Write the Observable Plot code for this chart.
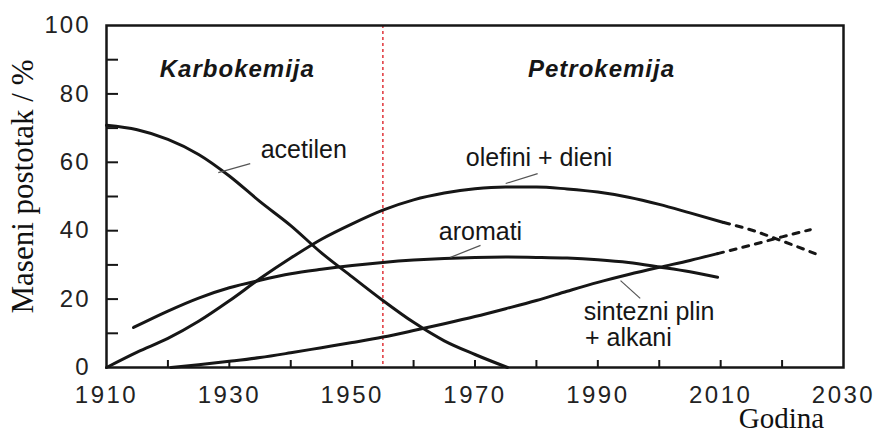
<!DOCTYPE html>
<html>
<head>
<meta charset="utf-8">
<script src="https://cdn.jsdelivr.net/npm/d3@7"></script>
<script src="https://cdn.jsdelivr.net/npm/@observablehq/plot@0.6"></script>
<style>
  html, body { margin: 0; padding: 0; background: #fff; }
  g[aria-label="x-axis tick label"] text { letter-spacing: 2.5px; }
  g[aria-label="y-axis tick label"] text { letter-spacing: 2px; }
  .period text { letter-spacing: 1px; }
</style>
</head>
<body>
<div id="chart"></div>
<script>
// ---- data ----
const acetilenYear  = [1910, 1915, 1920, 1925, 1930, 1935, 1940, 1945, 1950, 1955, 1960, 1965, 1970, 1975.3];
const acetilenValue = [70.8, 69.5, 66.7, 62.3, 56.0, 48.5, 41.5, 33.5, 26.5, 19.6, 13.2, 7.8, 3.8, 0];

const olefiniYear  = [1910, 1915, 1920, 1925, 1930, 1935, 1940, 1945, 1950, 1955, 1960, 1965, 1970, 1975, 1980, 1985, 1990, 1995, 2000, 2005, 2010.5];
const olefiniValue = [0, 4.5, 8.5, 13.5, 19.5, 26.0, 32.0, 37.5, 42.0, 46.0, 49.0, 51.0, 52.3, 52.8, 52.8, 52.2, 51.3, 49.8, 47.7, 45.2, 42.4];
const olefiniDashYear  = [2010.5, 2015, 2020, 2025.4];
const olefiniDashValue = [42.4, 40.2, 37.0, 33.3];

const aromatiYear  = [1914.4, 1920, 1925, 1930, 1935, 1940, 1945, 1950, 1955, 1960, 1965, 1970, 1975, 1980, 1985, 1990, 1995, 2000, 2005, 2009.5];
const aromatiValue = [11.7, 16.5, 20.3, 23.3, 25.5, 27.4, 28.7, 29.8, 30.7, 31.4, 31.9, 32.2, 32.3, 32.2, 32.0, 31.5, 30.7, 29.4, 28.0, 26.4];

const sinteznYear  = [1920.5, 1925, 1930, 1935, 1940, 1945, 1950, 1955, 1960, 1965, 1970, 1975, 1980, 1985, 1990, 1995, 2000, 2005, 2009.5];
const sinteznValue = [0, 0.8, 1.8, 2.9, 4.3, 5.8, 7.3, 8.9, 10.8, 12.8, 14.9, 17.2, 19.6, 22.3, 24.9, 27.2, 29.3, 31.3, 33.3];
const sinteznDashYear  = [2009.5, 2015, 2020, 2024.6];
const sinteznDashValue = [33.3, 35.8, 38.2, 40.3];

const transitionYear = [1955];

const xTickLabels = [1910, 1930, 1950, 1970, 1990, 2010, 2030];
const xMinorTicks = [1920, 1930, 1940, 1950, 1960, 1970, 1980, 1990, 2000, 2010, 2020];
const yTickLabels = [0, 20, 40, 60, 80, 100];
const yMinorTicks = [10, 20, 30, 40, 50, 60, 70, 80, 90];

const periodNames = ["Karbokemija", "Petrokemija"];
const periodX = [1931.3, 1990.6];
const periodY = [87.3, 87.3];

const seriesLabels = ["acetilen", "olefini + dieni", "aromati", "sintezni plin", "+ alkani"];
const seriesLabelX = [1935.1, 1968.5, 1964.1, 1987.7, 1987.9];
const seriesLabelY = [63.6, 61.4, 39.6, 16.3, 8.6];

const leaderX1 = [1928.2, 1975.0, 1966.0, 1993.7];
const leaderY1 = [57.0, 53.8, 32.2, 25.4];
const leaderX2 = [1933.4, 1980.2, 1970.9, 1996.9];
const leaderY2 = [59.6, 56.7, 35.7, 20.2];

const yTitle = "Maseni postotak / %";
const xTitle = "Godina";

// ---- build tables ----
const toRows = (xs, ys) => xs.map((x, i) => ({x, y: ys[i]}));
const solidSeries = [
  toRows(acetilenYear, acetilenValue),
  toRows(olefiniYear, olefiniValue),
  toRows(aromatiYear, aromatiValue),
  toRows(sinteznYear, sinteznValue)
];
const dashSeries = [
  toRows(olefiniDashYear, olefiniDashValue),
  toRows(sinteznDashYear, sinteznDashValue)
];
const periods = periodNames.map((t, i) => ({t, x: periodX[i], y: periodY[i]}));
const labels = seriesLabels.map((t, i) => ({t, x: seriesLabelX[i], y: seriesLabelY[i]}));
const leaders = leaderX1.map((x1, i) => ({x1, y1: leaderY1[i], x2: leaderX2[i], y2: leaderY2[i]}));

const W = 877, H = 435, mL = 106, mR = 34, mT = 25, mB = 68;
const innerW = W - mL - mR, innerH = H - mT - mB;
const ink = "#161616";
const serif = "'Liberation Serif', 'Times New Roman', serif";

const chart = Plot.plot({
  width: W, height: H,
  marginLeft: mL, marginRight: mR, marginTop: mT, marginBottom: mB,
  style: {fontFamily: "'Liberation Sans', Arial, sans-serif", background: "#fff", color: ink},
  x: {domain: [1910, 2030]},
  y: {domain: [0, 100]},
  marks: [
    Plot.ruleX(transitionYear, {stroke: "#e0343a", strokeWidth: 1.5, strokeDasharray: "3,3"}),
    ...solidSeries.map(s => Plot.line(s, {x: "x", y: "y", curve: "monotone-x", stroke: ink, strokeWidth: 3})),
    ...dashSeries.map(s => Plot.line(s, {x: "x", y: "y", curve: "monotone-x", stroke: ink, strokeWidth: 3, strokeDasharray: "6,7"})),
    Plot.link(leaders, {x1: "x1", y1: "y1", x2: "x2", y2: "y2", stroke: "#555", strokeWidth: 1.2}),
    Plot.tickX(xMinorTicks, {stroke: ink, strokeWidth: 2, insetTop: innerH - 7}),
    Plot.tickY(yMinorTicks, {stroke: ink, strokeWidth: 2, insetRight: innerW - 12}),
    Plot.frame({stroke: ink, strokeWidth: 2.5}),
    Plot.axisX(xTickLabels, {tickSize: 0, tickPadding: 18, fontSize: 24, label: null, tickFormat: d => String(d), fill: "#222"}),
    Plot.axisY(yTickLabels, {tickSize: 0, tickPadding: 16, fontSize: 24, label: null, fill: "#222"}),
    Plot.text(periods, {x: "x", y: "y", text: "t", fontSize: 24, fontWeight: "bold", fontStyle: "italic", fill: ink, className: "period"}),
    Plot.text(labels, {x: "x", y: "y", text: "t", fontSize: 25, textAnchor: "start", fill: ink}),
    Plot.text([yTitle], {frameAnchor: "left", textAnchor: "middle", lineAnchor: "middle", rotate: -90, dx: -83, dy: -10, fontSize: 31, fontFamily: serif, fill: "#111"}),
    Plot.text([xTitle], {frameAnchor: "bottom-right", textAnchor: "middle", lineAnchor: "middle", dx: -62, dy: 51, fontSize: 29, fontFamily: serif, fill: "#111"})
  ]
});
document.getElementById("chart").appendChild(chart);
</script>
</body>
</html>
